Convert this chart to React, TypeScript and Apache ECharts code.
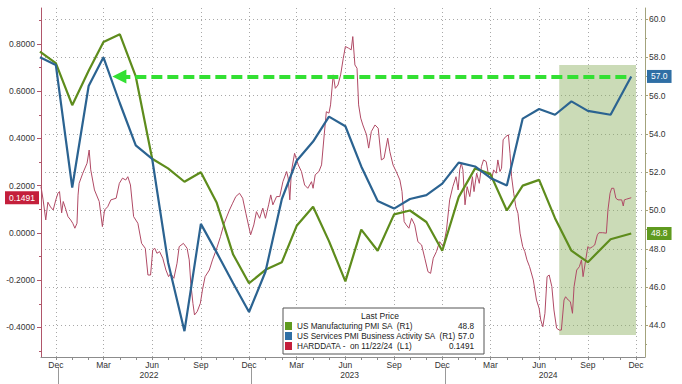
import React, { useEffect, useRef } from "react";
import * as echarts from "echarts";

// ---------- data ----------
const pmiDates = [
  "2021-11-01", "2021-12-01", "2022-01-01", "2022-02-01", "2022-03-01", "2022-04-01",
  "2022-05-01", "2022-06-01", "2022-07-01", "2022-08-01", "2022-09-01", "2022-10-01",
  "2022-11-01", "2022-12-01", "2023-01-01", "2023-02-01", "2023-03-01", "2023-04-01",
  "2023-05-01", "2023-06-01", "2023-07-01", "2023-08-01", "2023-09-01", "2023-10-01",
  "2023-11-01", "2023-12-01", "2024-01-01", "2024-02-01", "2024-03-01", "2024-04-01",
  "2024-05-01", "2024-06-01", "2024-07-01", "2024-08-01", "2024-09-01", "2024-10-14",
  "2024-11-22",
];
const manufacturingPmi = [
  58.3, 57.7, 55.5, 57.3, 58.8, 59.2, 57.0, 52.7, 52.2, 51.5, 52.0, 50.4,
  47.7, 46.2, 46.9, 47.3, 49.2, 50.2, 48.4, 46.3, 49.0, 47.9, 49.8, 50.0,
  49.4, 47.9, 50.7, 52.2, 51.9, 50.0, 51.3, 51.6, 49.6, 47.9, 47.3, 48.5,
  48.8,
];
const servicesPmi = [
  58.0, 57.6, 51.2, 56.5, 58.0, 55.6, 53.4, 52.7, 47.3, 43.7, 49.3, 47.8,
  46.2, 44.7, 46.8, 50.6, 52.6, 53.6, 54.9, 54.4, 52.3, 50.5, 50.1, 50.6,
  50.8, 51.4, 52.5, 52.3, 51.7, 51.3, 54.8, 55.3, 55.0, 55.7, 55.2, 55.0,
  57.0,
];

const hardDates = [
  "2021-11-03", "2021-11-07", "2021-11-12", "2021-11-16", "2021-11-21", "2021-11-26",
  "2021-12-01", "2021-12-05", "2021-12-08", "2021-12-12", "2021-12-15", "2021-12-19",
  "2021-12-24", "2021-12-29", "2022-01-02", "2022-01-06", "2022-01-10", "2022-01-12",
  "2022-01-14", "2022-01-21", "2022-01-29", "2022-02-02", "2022-02-05", "2022-02-12",
  "2022-02-21", "2022-02-27", "2022-03-03", "2022-03-09", "2022-03-15", "2022-03-25",
  "2022-03-31", "2022-04-06", "2022-04-12", "2022-04-16", "2022-04-21", "2022-04-27",
  "2022-05-05", "2022-05-12", "2022-05-19", "2022-05-24", "2022-05-29", "2022-06-02",
  "2022-06-06", "2022-06-10", "2022-06-15", "2022-06-21", "2022-06-27", "2022-07-02",
  "2022-07-06", "2022-07-12", "2022-07-18", "2022-07-22", "2022-07-30", "2022-08-06",
  "2022-08-10", "2022-08-13", "2022-08-17", "2022-08-20", "2022-08-25", "2022-08-31",
  "2022-09-04", "2022-09-09", "2022-09-17", "2022-09-23", "2022-09-30", "2022-10-08",
  "2022-10-15", "2022-10-25", "2022-10-31", "2022-11-06", "2022-11-13", "2022-11-19",
  "2022-11-25", "2022-12-04", "2022-12-10", "2022-12-15", "2022-12-21", "2022-12-27",
  "2023-01-01", "2023-01-07", "2023-01-11", "2023-01-15", "2023-01-22", "2023-01-28",
  "2023-02-03", "2023-02-10", "2023-02-13", "2023-02-16", "2023-02-19", "2023-02-25",
  "2023-03-04", "2023-03-10", "2023-03-16", "2023-03-22", "2023-03-29", "2023-04-01",
  "2023-04-05", "2023-04-12", "2023-04-17", "2023-04-22", "2023-04-26", "2023-05-01",
  "2023-05-04", "2023-05-09", "2023-05-13", "2023-05-18", "2023-05-23", "2023-05-28",
  "2023-06-01", "2023-06-07", "2023-06-12", "2023-06-15", "2023-06-19", "2023-06-23",
  "2023-06-26", "2023-06-30", "2023-07-04", "2023-07-11", "2023-07-15", "2023-07-20",
  "2023-07-27", "2023-08-02", "2023-08-08", "2023-08-13", "2023-08-20", "2023-08-24",
  "2023-08-30", "2023-09-05", "2023-09-12", "2023-09-16", "2023-09-20", "2023-09-24",
  "2023-09-29", "2023-10-04", "2023-10-10", "2023-10-16", "2023-10-23", "2023-10-29",
  "2023-11-04", "2023-11-09", "2023-11-14", "2023-11-20", "2023-11-26", "2023-12-03",
  "2023-12-09", "2023-12-15", "2023-12-21", "2023-12-27", "2023-12-31", "2024-01-03",
  "2024-01-06", "2024-01-09", "2024-01-13", "2024-01-17", "2024-01-22", "2024-01-27",
  "2024-01-30", "2024-02-04", "2024-02-09", "2024-02-13", "2024-02-17", "2024-02-22",
  "2024-02-27", "2024-03-03", "2024-03-07", "2024-03-12", "2024-03-15", "2024-03-19",
  "2024-03-22", "2024-03-25", "2024-03-30", "2024-04-04", "2024-04-07", "2024-04-10",
  "2024-04-14", "2024-04-18", "2024-04-22", "2024-04-26", "2024-05-01", "2024-05-05",
  "2024-05-09", "2024-05-14", "2024-05-21", "2024-05-27", "2024-06-01", "2024-06-04",
  "2024-06-08", "2024-06-12", "2024-06-16", "2024-06-20", "2024-06-25", "2024-06-29",
  "2024-07-04", "2024-07-09", "2024-07-13", "2024-07-18", "2024-07-21", "2024-07-26",
  "2024-07-30", "2024-08-03", "2024-08-06", "2024-08-11", "2024-08-16", "2024-08-20",
  "2024-08-23", "2024-08-28", "2024-09-01", "2024-09-05", "2024-09-10", "2024-09-14",
  "2024-09-19", "2024-09-22", "2024-09-29", "2024-10-06", "2024-10-09", "2024-10-13",
  "2024-10-16", "2024-10-20", "2024-10-24", "2024-10-28", "2024-11-04", "2024-11-07",
  "2024-11-09", "2024-11-13", "2024-11-22",
];
const hardValues = [
  0.196, 0.14, 0.055, 0.13, 0.11, 0.097,
  0.14, 0.168, 0.175, 0.085, 0.133, 0.106,
  0.069, 0.055, 0.041, 0.02, 0.041, 0.16,
  0.21, 0.253, 0.295, 0.351, 0.267, 0.182,
  0.133, 0.027, 0.097, 0.111, 0.14, 0.147,
  0.21, 0.232, 0.224, 0.238, 0.203, 0.069,
  0.041, -0.044, -0.065, -0.178, -0.178, -0.072,
  -0.065, -0.086, -0.079, -0.107, -0.157, -0.185,
  -0.171, -0.192, -0.128, -0.058, -0.044, -0.065,
  -0.114, -0.213, -0.298, -0.347, -0.333, -0.298,
  -0.241, -0.185, -0.157, -0.114, -0.072, -0.016,
  0.041, 0.097, 0.126, 0.154, 0.168, 0.147,
  0.083, -0.008, 0.034, 0.09, 0.062, 0.105,
  0.062, 0.119, 0.161, 0.119, 0.154, 0.154,
  0.217, 0.26, 0.232, 0.14, 0.26, 0.337,
  0.288, 0.26, 0.203, 0.189, 0.217, 0.189,
  0.246, 0.26, 0.288, 0.415, 0.513, 0.507,
  0.542, 0.669, 0.612, 0.626, 0.669, 0.739,
  0.789, 0.782, 0.775, 0.831, 0.711, 0.697,
  0.542, 0.486, 0.457, 0.415, 0.359, 0.429,
  0.457, 0.443, 0.309, 0.316, 0.401, 0.344,
  0.288, 0.26, 0.224, 0.175, 0.048, 0.034,
  0.02, 0.062, 0.034, -0.037, -0.051, -0.107,
  -0.164, -0.171, -0.107, -0.079, -0.037, -0.058,
  0.013, 0.14, 0.196, 0.238, 0.182, 0.267,
  0.295, 0.267, 0.119, 0.196, 0.154, 0.238,
  0.175, 0.253, 0.21, 0.281, 0.309, 0.302,
  0.238, 0.224, 0.267, 0.253, 0.309, 0.26,
  0.274, 0.394, 0.408, 0.415, 0.337, 0.238,
  0.168, 0.111, 0.083, -0.001, -0.058, -0.079,
  -0.114, -0.143, -0.199, -0.284, -0.319, -0.368,
  -0.397, -0.34, -0.185, -0.178, -0.227, -0.326,
  -0.403, -0.411, -0.411, -0.284, -0.27, -0.284,
  -0.291, -0.34, -0.227, -0.157, -0.143, -0.114,
  -0.185, -0.114, -0.058, -0.065, -0.058, -0.051,
  -0.008, 0.001, 0.001, -0.001, 0.097, 0.168,
  0.189, 0.189, 0.147, 0.14, 0.14, 0.114,
  0.14, 0.143, 0.1491,
];

const seriesNames = [
  "US Manufacturing PMI SA  (R1)",
  "US Services PMI Business Activity SA  (R1)",
  "HARDDATA -  on 11/22/24  (L1)",
];

// axis ticks and labels
const xRange = ["2021-11-03", "2024-12-18"];
const quarterTicks = [
  "2021-12-01", "2022-03-01", "2022-06-01", "2022-09-01", "2022-12-01", "2023-03-01",
  "2023-06-01", "2023-09-01", "2023-12-01", "2024-03-01", "2024-06-01", "2024-09-01",
  "2024-12-01",
];
const yearSeparators = ["2021-12-06", "2022-12-06", "2023-12-06"];
const yearLabelDates = ["2022-05-26", "2023-06-09", "2024-06-18"];
const monthNames = ["Jan", "Feb", "Mar", "Apr", "May", "Jun", "Jul", "Aug", "Sep", "Oct", "Nov", "Dec"];
const leftRange = [-0.525, 0.952];
const leftTicks = [-0.4, -0.2, 0, 0.2, 0.4, 0.6, 0.8];
const leftMinorTicks = [-0.5, -0.3, -0.1, 0.1, 0.3, 0.5, 0.7, 0.9];
const rightRange = [42.35, 60.574];
const rightTicks = [44, 46, 48, 50, 52, 54, 56, 58, 60];
const rightMinorTicks = [43, 45, 47, 49, 51, 53, 55, 57, 59];

// annotations
const arrowLevel = 57.0;
const arrowDates = ["2022-03-31", "2024-11-22"];
const highlightDates = ["2024-07-09", "2024-12-01"];
const highlightRange = [57.6, 43.5];

// ---------- styling ----------
const FONT = "'Liberation Sans', Arial, sans-serif";
const GREEN = "#5e8c1c";
const BLUE = "#2b6391";
const RED_LINE = "#b04a65";
const RED_FLAG = "#c41f3b";
const GREEN_FLAG = "#5f9a1f";
const BLUE_FLAG = "#2f6fa5";
const LABEL_COLOR = "#333";

const ts = (s: string) => {
  const [y, m, d] = s.split("-").map(Number);
  return new Date(y, m - 1, d).getTime();
};

function buildOption() {
  const monthTicks: number[] = [];
  for (let i = 0; i <= 36; i++) monthTicks.push(new Date(2021, 11 + i, 1).getTime());

  const xMin = ts(xRange[0]);
  const xMax = ts(xRange[1]);
  const lastIdx = pmiDates.length - 1;
  const lastValues: Record<string, string> = {
    [seriesNames[0]]: manufacturingPmi[lastIdx].toFixed(1),
    [seriesNames[1]]: servicesPmi[lastIdx].toFixed(1),
    [seriesNames[2]]: hardValues[hardValues.length - 1].toFixed(4),
  };

  const fs = 8.5;
  const pointerLabel = (bg: string, text: string) => ({
    show: true,
    formatter: () => text,
    backgroundColor: bg,
    color: "#fff",
    padding: [2, 4, 2, 4],
    fontSize: fs,
    fontFamily: FONT,
    margin: 2,
    borderRadius: 0,
    shadowBlur: 0,
  });

  const xBase = {
    type: "value",
    position: "bottom",
    min: xMin,
    max: xMax,
    scale: true,
  };

  return {
    animation: false,
    backgroundColor: "#ffffff",
    textStyle: { fontFamily: FONT },
    grid: {
      left: 41,
      right: 37,
      top: 8,
      bottom: 27,
      containLabel: false,
      outerBoundsMode: "none",
    },
    legend: {
      orient: "vertical",
      left: 283,
      top: 308,
      padding: [13, 10, 3, 2],
      itemGap: 0,
      itemWidth: 7,
      itemHeight: 8,
      icon: "rect",
      selectedMode: false,
      backgroundColor: "#ffffff",
      borderColor: "#555",
      borderWidth: 1,
      z: 10,
      data: [
        { name: seriesNames[0], itemStyle: { color: GREEN_FLAG } },
        { name: seriesNames[1], itemStyle: { color: BLUE_FLAG } },
        { name: seriesNames[2], itemStyle: { color: RED_FLAG } },
      ],
      formatter: (name: string) => `{n|${name}}{v|${lastValues[name]}}`,
      textStyle: {
        fontSize: 8.2,
        fontFamily: FONT,
        color: "#222",
        lineHeight: 10,
        rich: {
          n: { width: 151, fontSize: 8.2, lineHeight: 10, fontFamily: FONT, color: "#222" },
          v: { width: 26, align: "right", fontSize: 8.2, lineHeight: 10, fontFamily: FONT, color: "#222" },
        },
      },
    },
    graphic: [
      {
        type: "text",
        x: 380,
        y: 316,
        z: 100,
        style: {
          text: "Last Price",
          align: "center",
          verticalAlign: "middle",
          fontSize: fs,
          fontFamily: FONT,
          fill: "#222",
        },
      },
    ],
    xAxis: [
      {
        ...xBase,
        axisLine: { show: true, onZero: false, lineStyle: { color: "#8c8c8c", width: 1 } },
        axisTick: { show: true, customValues: monthTicks, length: 3, lineStyle: { color: "#8c8c8c" } },
        axisLabel: {
          show: true,
          customValues: quarterTicks.map(ts),
          formatter: (v: number) => monthNames[new Date(v).getMonth()],
          margin: 3,
          fontSize: fs,
          color: LABEL_COLOR,
          fontFamily: FONT,
        },
        splitLine: { show: false },
      },
      {
        ...xBase,
        axisLine: { show: false, onZero: false },
        axisTick: { show: false, customValues: quarterTicks.map(ts) },
        axisLabel: { show: false },
        splitLine: { show: true, lineStyle: { type: [1, 3], color: "#a8a8a8", width: 1 } },
      },
      {
        ...xBase,
        offset: 10,
        axisLine: { show: false, onZero: false },
        axisTick: { show: true, customValues: yearSeparators.map(ts), length: 17, lineStyle: { color: "#999" } },
        axisLabel: {
          show: true,
          customValues: yearLabelDates.map(ts),
          formatter: (v: number) => String(new Date(v).getFullYear()),
          margin: 3,
          fontSize: fs,
          color: LABEL_COLOR,
          fontFamily: FONT,
        },
        splitLine: { show: false },
      },
    ],
    yAxis: [
      {
        type: "value",
        position: "left",
        min: leftRange[0],
        max: leftRange[1],
        axisLine: { show: true, onZero: false, lineStyle: { color: "#b0566a", width: 1 } },
        axisTick: { show: true, customValues: leftTicks, length: 4, lineStyle: { color: "#b0566a" } },
        axisLabel: {
          show: true,
          customValues: leftTicks,
          formatter: (v: number) => v.toFixed(4),
          margin: 6,
          fontSize: fs,
          color: LABEL_COLOR,
          fontFamily: FONT,
        },
        splitLine: { show: false },
        axisPointer: {
          show: true,
          type: "none",
          value: hardValues[hardValues.length - 1],
          status: "show",
          triggerTooltip: false,
          label: pointerLabel(RED_FLAG, hardValues[hardValues.length - 1].toFixed(4)),
        },
      },
      {
        type: "value",
        position: "right",
        min: rightRange[0],
        max: rightRange[1],
        axisLine: { show: true, onZero: false, lineStyle: { color: "#a3a37c", width: 1 } },
        axisTick: { show: true, customValues: rightTicks, length: 3, lineStyle: { color: "#a3a37c" } },
        axisLabel: {
          show: true,
          customValues: rightTicks,
          formatter: (v: number) => v.toFixed(1),
          margin: 4,
          fontSize: fs,
          color: LABEL_COLOR,
          fontFamily: FONT,
        },
        splitLine: { show: true, lineStyle: { type: [1, 3], color: "#a8a8a8", width: 1 } },
        axisPointer: {
          show: true,
          type: "none",
          value: servicesPmi[lastIdx],
          status: "show",
          triggerTooltip: false,
          label: pointerLabel(BLUE_FLAG, servicesPmi[lastIdx].toFixed(1)),
        },
      },
      {
        type: "value",
        position: "left",
        min: leftRange[0],
        max: leftRange[1],
        axisLine: { show: false, onZero: false },
        axisTick: { show: true, customValues: leftMinorTicks, length: 2, lineStyle: { color: "#b0566a" } },
        axisLabel: { show: false },
        splitLine: { show: false },
      },
      {
        type: "value",
        position: "right",
        min: rightRange[0],
        max: rightRange[1],
        axisLine: { show: false, onZero: false },
        axisTick: { show: true, customValues: rightMinorTicks, length: 2, lineStyle: { color: "#a3a37c" } },
        axisLabel: { show: false },
        splitLine: { show: false },
        axisPointer: {
          show: true,
          type: "none",
          value: manufacturingPmi[lastIdx],
          status: "show",
          triggerTooltip: false,
          label: pointerLabel(GREEN_FLAG, manufacturingPmi[lastIdx].toFixed(1)),
        },
      },
    ],
    series: [
      {
        name: seriesNames[2],
        type: "line",
        xAxisIndex: 0,
        yAxisIndex: 0,
        data: hardDates.map((d, i) => [ts(d), hardValues[i]]),
        showSymbol: false,
        symbol: "none",
        lineStyle: { width: 1, color: RED_LINE },
        itemStyle: { color: RED_LINE },
        z: 3,
      },
      {
        name: seriesNames[0],
        type: "line",
        xAxisIndex: 0,
        yAxisIndex: 1,
        data: pmiDates.map((d, i) => [ts(d), manufacturingPmi[i]]),
        showSymbol: false,
        symbol: "none",
        lineStyle: { width: 2.2, color: GREEN },
        itemStyle: { color: GREEN },
        z: 4,
      },
      {
        name: seriesNames[1],
        type: "line",
        xAxisIndex: 0,
        yAxisIndex: 1,
        data: pmiDates.map((d, i) => [ts(d), servicesPmi[i]]),
        showSymbol: false,
        symbol: "none",
        lineStyle: { width: 2.2, color: BLUE },
        itemStyle: { color: BLUE },
        z: 5,
        markArea: {
          silent: true,
          z: 1,
          itemStyle: { color: "rgba(140,175,95,0.45)" },
          data: [
            [
              { coord: [ts(highlightDates[0]), highlightRange[0]] },
              { coord: [ts(highlightDates[1]), highlightRange[1]] },
            ],
          ],
        },
        markLine: {
          silent: true,
          symbol: ["triangle", "none"],
          symbolSize: [14, 14],
          label: { show: false },
          lineStyle: { color: "#33e033", width: 4, type: [11, 5] },
          itemStyle: { color: "#33e033" },
          z: 6,
          data: [
            [
              { coord: [ts(arrowDates[0]), arrowLevel] },
              { coord: [ts(arrowDates[1]), arrowLevel] },
            ],
          ],
        },
      },
    ],
  };
}

export default function App() {
  const ref = useRef<HTMLDivElement>(null);
  useEffect(() => {
    if (!ref.current) return;
    const chart = echarts.init(ref.current, null, { renderer: "svg" });
    chart.setOption(buildOption() as any);
    return () => chart.dispose();
  }, []);
  return (
    <div
      ref={ref}
      style={{ position: "fixed", left: 0, top: 0, width: 682, height: 384, background: "#fff" }}
    />
  );
}
